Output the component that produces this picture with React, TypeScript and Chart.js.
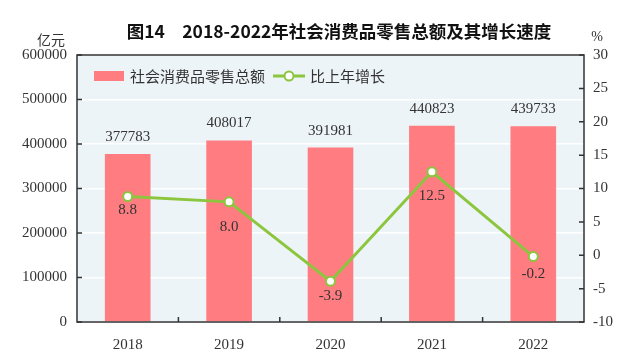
import React, { useEffect, useRef } from "react";
import { Chart, registerables } from "chart.js";

Chart.register(...registerables);

const categories = ["2018", "2019", "2020", "2021", "2022"];
const salesValues = [377783, 408017, 391981, 440823, 439733];
const growthValues = [8.8, 8.0, -3.9, 12.5, -0.2];
const growthLabels = ["8.8", "8.0", "-3.9", "12.5", "-0.2"];
const salesLabels = ["377783", "408017", "391981", "440823", "439733"];
const titleText = "图14　2018-2022年社会消费品零售总额及其增长速度";
const barLegend = "社会消费品零售总额";
const lineLegend = "比上年增长";
const leftUnit = "亿元";
const rightUnit = "%";

// label offsets below line points (style only)
const growthLabelOffsets = [14, 25, 15, 24, 17];

const BAR_COLOR = "rgb(255,124,128)";
const LINE_COLOR = "rgb(140,198,63)";
const PLOT_BG = "rgb(237,244,248)";
const FRAME = "#333333";
const TEXT = "#333333";
const SERIF = "'Liberation Serif', 'DejaVu Serif', serif";
const CJK = "'Noto Sans CJK SC', sans-serif";

const decorPlugin = {
  id: "decor",
  beforeDraw(chart: any) {
    const { ctx, chartArea: a } = chart;
    ctx.save();
    ctx.fillStyle = PLOT_BG;
    ctx.fillRect(a.left, a.top, a.right - a.left, a.bottom - a.top);
    ctx.restore();
  },
  afterDatasetsDraw(chart: any) {
    const { ctx } = chart;
    ctx.save();
    ctx.font = `15px ${SERIF}`;
    ctx.fillStyle = TEXT;
    ctx.textAlign = "center";
    ctx.textBaseline = "middle";
    const barMeta = chart.getDatasetMeta(0);
    barMeta.data.forEach((el: any, i: number) => {
      ctx.fillText(salesLabels[i], el.x, el.y - 17);
    });
    const lineMeta = chart.getDatasetMeta(1);
    lineMeta.data.forEach((el: any, i: number) => {
      ctx.fillText(growthLabels[i], el.x, el.y + growthLabelOffsets[i]);
    });
    ctx.restore();
  },
  afterDraw(chart: any) {
    const { ctx, chartArea: a, scales } = chart;
    ctx.save();
    // frame
    ctx.strokeStyle = FRAME;
    ctx.lineWidth = 1.5;
    ctx.strokeRect(a.left, a.top, a.right - a.left, a.bottom - a.top);
    // inward ticks
    ctx.beginPath();
    const yS = scales.y;
    yS.ticks.forEach((t: any) => {
      const py = yS.getPixelForValue(t.value);
      ctx.moveTo(a.left, py);
      ctx.lineTo(a.left + 5, py);
    });
    const y1S = scales.y1;
    y1S.ticks.forEach((t: any) => {
      const py = y1S.getPixelForValue(t.value);
      ctx.moveTo(a.right, py);
      ctx.lineTo(a.right - 5, py);
    });
    const step = (a.right - a.left) / categories.length;
    for (let i = 1; i < categories.length; i++) {
      const px = a.left + step * i;
      ctx.moveTo(px, a.bottom);
      ctx.lineTo(px, a.bottom - 5);
    }
    ctx.stroke();

    // title
    ctx.fillStyle = "#111";
    ctx.font = `bold 17.5px ${CJK}`;
    ctx.textAlign = "center";
    ctx.textBaseline = "middle";
    ctx.fillText(titleText, 339, 31);

    // units
    ctx.fillStyle = TEXT;
    ctx.font = `14px ${CJK}`;
    ctx.textAlign = "right";
    ctx.fillText(leftUnit, 65, 40);
    ctx.textAlign = "center";
    ctx.font = `14px ${SERIF}`;
    ctx.fillText(rightUnit, 597, 37);

    // legend
    ctx.fillStyle = BAR_COLOR;
    ctx.fillRect(94, 71, 30, 10);
    ctx.fillStyle = TEXT;
    ctx.font = `15px ${CJK}`;
    ctx.textAlign = "left";
    ctx.fillText(barLegend, 130, 76);
    ctx.strokeStyle = LINE_COLOR;
    ctx.lineWidth = 3;
    ctx.beginPath();
    ctx.moveTo(273, 76);
    ctx.lineTo(305, 76);
    ctx.stroke();
    ctx.beginPath();
    ctx.arc(289, 76, 4.5, 0, Math.PI * 2);
    ctx.fillStyle = "#fff";
    ctx.fill();
    ctx.lineWidth = 2;
    ctx.stroke();
    ctx.fillStyle = TEXT;
    ctx.fillText(lineLegend, 310, 76);
    ctx.restore();
  },
};

export default function App() {
  const ref = useRef<HTMLCanvasElement | null>(null);
  useEffect(() => {
    if (!ref.current) return;
    const chart = new Chart(ref.current, {
      data: {
        labels: categories,
        datasets: [
          {
            type: "bar",
            label: barLegend,
            data: salesValues,
            backgroundColor: BAR_COLOR,
            barPercentage: 0.45,
            categoryPercentage: 1,
            yAxisID: "y",
            order: 1,
          },
          {
            type: "line",
            label: lineLegend,
            data: growthValues,
            borderColor: LINE_COLOR,
            borderWidth: 3,
            pointBackgroundColor: "#ffffff",
            pointBorderColor: LINE_COLOR,
            pointBorderWidth: 2,
            pointRadius: 4.5,
            yAxisID: "y1",
            order: 0,
            tension: 0,
          },
        ] as any,
      },
      options: {
        responsive: false,
        animation: false,
        layout: { padding: { top: 55, left: 0, right: 0, bottom: 0 } },
        plugins: {
          legend: { display: false },
          tooltip: { enabled: false },
          title: { display: false },
        },
        scales: {
          x: {
            offset: true,
            grid: { display: false },
            border: { display: false },
            ticks: {
              color: TEXT,
              font: { family: SERIF, size: 15 },
              padding: 6,
            },
            afterFit(s: any) {
              s.height = 38;
            },
          },
          y: {
            position: "left",
            min: 0,
            max: 600000,
            ticks: {
              stepSize: 100000,
              color: TEXT,
              font: { family: SERIF, size: 15 },
              padding: 10,
              callback: (v: any) => String(v),
            },
            grid: { color: "#ffffff", lineWidth: 1.5, drawTicks: false },
            border: { display: false },
            afterFit(s: any) {
              s.width = 77;
            },
          },
          y1: {
            position: "right",
            min: -10,
            max: 30,
            ticks: {
              stepSize: 5,
              color: TEXT,
              font: { family: SERIF, size: 15 },
              padding: 9,
              callback: (v: any) => String(v),
            },
            grid: { drawOnChartArea: false, drawTicks: false },
            border: { display: false },
            afterFit(s: any) {
              s.width = 58;
            },
          },
        },
      } as any,
      plugins: [decorPlugin],
    });
    return () => chart.destroy();
  }, []);
  return (
    <div style={{ position: "absolute", left: 0, top: 0, width: 642, height: 360 }}>
      <canvas ref={ref} width={642} height={360} />
    </div>
  );
}
